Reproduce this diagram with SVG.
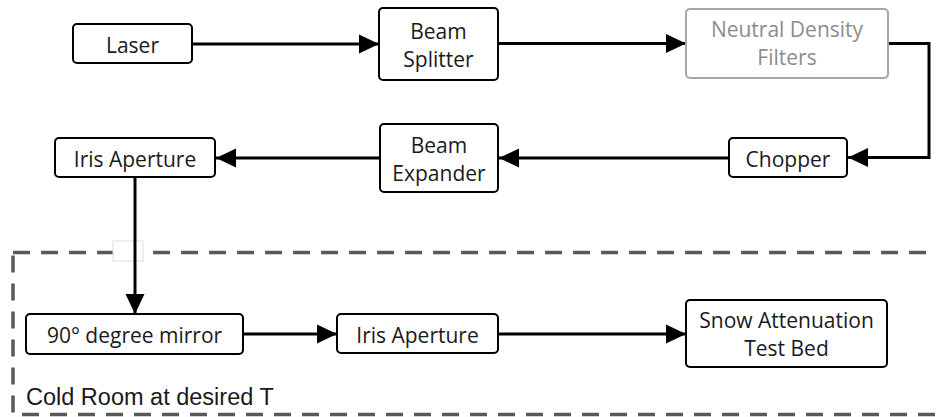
<svg xmlns="http://www.w3.org/2000/svg" width="937" height="417" viewBox="0 0 937 417">
<style>
.node rect{fill:#fff;stroke:#000;stroke-width:2}
.node text{font-family:"Open Sans","Noto Sans",sans-serif;font-size:21px;fill:#1a1a1a;text-anchor:middle}
#nd rect{stroke:#a6a6a6}
#nd text{fill:#8c8c8c}
.conn{fill:none;stroke:#000;stroke-width:3}
.room{fill:none;stroke:#595959;stroke-width:3.5;stroke-dasharray:17 11}
.label{font-family:"Liberation Sans",Arial,sans-serif;font-size:23.5px;fill:#1a1a1a}
</style>
<defs>
<marker id="ah" markerUnits="userSpaceOnUse" markerWidth="20" markerHeight="20" refX="20" refY="10" orient="auto">
<path d="M0,0.5 L20,10 L0,19.5 z" fill="#000"/>
</marker>
</defs>
<rect class="room" x="13" y="252.5" width="940" height="162"/>
<rect x="113" y="241" width="30" height="20" fill="#fff" stroke="#dcdcdc" stroke-width="1"/>
<text class="label" x="26" y="405">Cold Room at desired T</text>
<g id="connectors">
<line class="conn" x1="192" y1="44" x2="379" y2="44" marker-end="url(#ah)"/>
<line class="conn" x1="498" y1="43.5" x2="686" y2="43.5" marker-end="url(#ah)"/>
<polyline class="conn" points="888,43.5 929,43.5 929,157.5 848,157.5" marker-end="url(#ah)"/>
<line class="conn" x1="729" y1="158" x2="499" y2="158" marker-end="url(#ah)"/>
<line class="conn" x1="380" y1="158" x2="216" y2="158" marker-end="url(#ah)"/>
<line class="conn" x1="135" y1="177" x2="135" y2="314" marker-end="url(#ah)"/>
<line class="conn" x1="243" y1="334" x2="337" y2="334" marker-end="url(#ah)"/>
<line class="conn" x1="498" y1="334" x2="686" y2="334" marker-end="url(#ah)"/>
</g>
<g id="laser" class="node"><rect x="73" y="24" width="119" height="39" rx="4"/><text x="132.5" y="52.5">Laser</text></g>
<g id="splitter" class="node"><rect x="379" y="8" width="119" height="72" rx="4"/><text x="438.5" y="39">Beam</text><text x="438.5" y="67">Splitter</text></g>
<g id="nd" class="node"><rect x="686" y="9" width="202" height="69" rx="4"/><text x="787" y="37">Neutral Density</text><text x="787" y="65">Filters</text></g>
<g id="chopper" class="node"><rect x="729" y="138" width="118" height="39" rx="4"/><text x="788" y="166.5">Chopper</text></g>
<g id="expander" class="node"><rect x="380" y="124" width="118" height="68" rx="4"/><text x="439" y="153">Beam</text><text x="439" y="181">Expander</text></g>
<g id="iris1" class="node"><rect x="55" y="138" width="160" height="39" rx="4"/><text x="135" y="166.5">Iris Aperture</text></g>
<g id="mirror" class="node"><rect x="26" y="314" width="217" height="40" rx="4"/><text x="134.5" y="343">90° degree mirror</text></g>
<g id="iris2" class="node"><rect x="337" y="314" width="161" height="39" rx="4"/><text x="417.5" y="342.5">Iris Aperture</text></g>
<g id="testbed" class="node"><rect x="686" y="300" width="201" height="67" rx="4"/><text x="786.5" y="327.5">Snow Attenuation</text><text x="786.5" y="356">Test Bed</text></g>
</svg>
